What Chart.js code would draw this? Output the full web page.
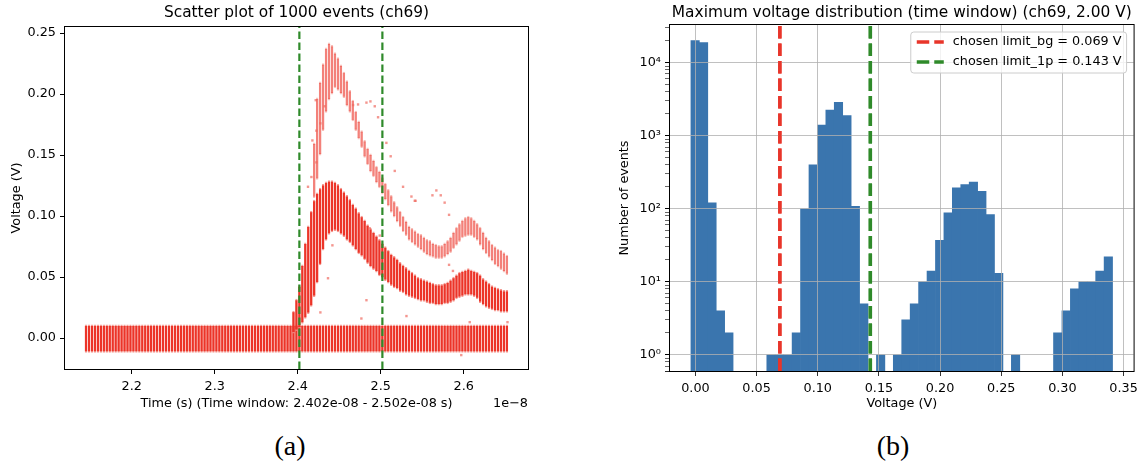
<!DOCTYPE html>
<html>
<head>
<meta charset="utf-8">
<script src="https://cdn.jsdelivr.net/npm/chart.js@4.4.1/dist/chart.umd.min.js"></script>
<style>
  html, body { margin: 0; padding: 0; background: #fff; }
  body { width: 1143px; height: 471px; position: relative; overflow: hidden; }
  #scatterChart { position: absolute; left: 0; top: 0; }
  #histChart { position: absolute; left: 560px; top: 0; }
  .cap { position: absolute; top: 430px; width: 80px; text-align: center;
         font-family: "Liberation Serif", "DejaVu Serif", serif; font-size: 28px; color: #000; }
</style>
</head>
<body>
<canvas id="scatterChart" width="560" height="420"></canvas>
<canvas id="histChart" width="583" height="420"></canvas>
<div class="cap" style="left:250px">(a)</div>
<div class="cap" style="left:853px">(b)</div>
<script>
// ---- (a) scatter of 1000 events, time axis in units of 1e-8 s ----
const sampleStart = 2.145;
const sampleStep = 0.00357;
const sampleCount = 143;
// 0 p.e. baseline, flat over the whole trace
const baselineBand = [-0.0118, 0.0108];
// pulse region starts at this sample
const signalFirstSample = 70;
const onePeLow = [
  0.004, 0.006, 0.008, 0.012, 0.016, 0.020, 0.026, 0.034, 0.045, 0.060,
  0.072, 0.080, 0.085, 0.087, 0.088, 0.087, 0.085, 0.083, 0.080, 0.078,
  0.075, 0.072, 0.069, 0.067, 0.064, 0.061, 0.058, 0.056, 0.054, 0.051,
  0.049, 0.047, 0.045, 0.043, 0.041, 0.040, 0.038, 0.037, 0.035, 0.034,
  0.033, 0.032, 0.031, 0.030, 0.030, 0.029, 0.028, 0.028, 0.027, 0.027,
  0.027, 0.028, 0.028, 0.029, 0.030, 0.032, 0.033, 0.034, 0.035, 0.035,
  0.035, 0.034, 0.032, 0.029, 0.027, 0.025, 0.024, 0.023, 0.022, 0.022,
  0.021, 0.021, 0.021
];
const onePeHigh = [
  0.022, 0.032, 0.043, 0.060, 0.078, 0.092, 0.104, 0.113, 0.119, 0.123,
  0.126, 0.128, 0.129, 0.129, 0.128, 0.126, 0.123, 0.120, 0.117, 0.114,
  0.110, 0.107, 0.103, 0.100, 0.097, 0.093, 0.090, 0.087, 0.084, 0.081,
  0.078, 0.075, 0.072, 0.069, 0.067, 0.065, 0.062, 0.060, 0.058, 0.056,
  0.054, 0.052, 0.050, 0.049, 0.048, 0.047, 0.046, 0.045, 0.044, 0.044,
  0.044, 0.045, 0.046, 0.048, 0.050, 0.052, 0.054, 0.055, 0.056, 0.057,
  0.056, 0.055, 0.054, 0.052, 0.049, 0.047, 0.045, 0.043, 0.042, 0.041,
  0.040, 0.039, 0.039
];
const twoPeLow = [
  null, null, null, null, null, null, null, 0.115, 0.130, 0.150,
  0.170, 0.185, 0.195, 0.200, 0.205, 0.203, 0.200, 0.197, 0.190, 0.185,
  0.178, 0.170, 0.163, 0.156, 0.148, 0.142, 0.136, 0.132, 0.127, 0.123,
  0.118, 0.113, 0.108, 0.103, 0.099, 0.095, 0.091, 0.087, 0.084, 0.080,
  0.078, 0.076, 0.074, 0.072, 0.070, 0.068, 0.067, 0.066, 0.065, 0.065,
  0.065, 0.066, 0.068, 0.070, 0.073, 0.076, 0.079, 0.082, 0.083, 0.084,
  0.084, 0.082, 0.080, 0.076, 0.072, 0.069, 0.066, 0.063, 0.060, 0.058,
  0.056, 0.054, 0.052
];
const twoPeHigh = [
  null, null, null, null, null, null, null, 0.160, 0.197, 0.210,
  0.225, 0.238, 0.242, 0.240, 0.234, 0.230, 0.224, 0.218, 0.211, 0.203,
  0.195, 0.186, 0.178, 0.170, 0.162, 0.156, 0.151, 0.146, 0.141, 0.137,
  0.132, 0.127, 0.122, 0.117, 0.112, 0.108, 0.104, 0.100, 0.096, 0.092,
  0.090, 0.088, 0.086, 0.085, 0.083, 0.081, 0.080, 0.078, 0.077, 0.076,
  0.076, 0.078, 0.080, 0.083, 0.087, 0.091, 0.094, 0.097, 0.099, 0.100,
  0.099, 0.097, 0.094, 0.091, 0.087, 0.083, 0.080, 0.077, 0.075, 0.073,
  0.072, 0.070, 0.068
];
// stray single events outside the bands
const outlierTimes = [
  2.4124, 2.4165, 2.4177, 2.4217, 2.4225, 2.4225, 2.4273, 2.4325, 2.4667, 2.4727,
  2.4828, 2.4876, 2.4928, 2.4968, 2.5068, 2.5120, 2.5169, 2.5269, 2.5370, 2.5410,
  2.5420, 2.5623, 2.5670, 2.5723, 2.5770, 2.4273, 2.4418, 2.4365, 2.4828, 2.4767,
  2.5310, 2.4867, 2.4988, 2.5823, 2.5823, 2.5870, 2.6072, 2.5970, 2.6527
];
const outlierVolts = [
  0.124, 0.132, 0.162, 0.195, 0.170, 0.144, 0.176, 0.190, 0.191, 0.1915,
  0.193, 0.194, 0.190, 0.181, 0.160, 0.149, 0.137, 0.124, 0.116, 0.1125,
  0.1125, 0.117, 0.121, 0.117, 0.111, 0.021, 0.076, 0.049, 0.031, 0.016,
  0.018, 0.090, 0.084, 0.101, 0.060, 0.055, 0.013, -0.014, 0.013
];
const windowLimits = [2.402, 2.502];
const scatterXRange = [2.1197, 2.6774];
const scatterYRange = [-0.0254, 0.255];

// ---- (b) histogram of max voltage in the time window ----
const binStart = -0.0037;
const binWidth = 0.006894;
const binCounts = [
  20000, 18800, 120, 4, 2, null, null, null, null, 1,
  1, 1, 2, 100, 400, 1400, 2250, 2870, 1880, 108,
  5, null, 1, null, 1, 3, 5, 10, 14, 37,
  88, 194, 215, 232, 173, 83, 13, null, 1, null,
  null, null, null, 2, 4, 8, 10, 10, 14, 22
];
const limitBg = 0.069;
const limit1p = 0.143;
const histXRange = [-0.0208, 0.3582];
const histYRange = [0.6, 32800];

const FONT = '"DejaVu Sans", sans-serif';
const RED = "rgb(236,52,40)";
const PINK = "rgba(242,140,130,0.85)";
const GREEN = "#2f8a2a";
const BLUE = "#3a75ae";
const SUP = ["\u2070", "\u00b9", "\u00b2", "\u00b3", "\u2074"];

Chart.defaults.font.family = FONT;
Chart.defaults.font.size = 12.8;
Chart.defaults.color = "#000";

const sampleTimes = Array.from({ length: sampleCount }, (_, i) => sampleStart + i * sampleStep);

function bandData(lows, highs) {
  const out = [];
  lows.forEach((lo, k) => {
    if (lo === null) return;
    out.push({ x: sampleTimes[signalFirstSample + k], y: [lo, highs[k]] });
  });
  return out;
}

function vline(x, range, color, width, dash, label) {
  return {
    type: "line",
    label: label,
    data: [{ x: x, y: range[0] }, { x: x, y: range[1] }],
    borderColor: color,
    borderWidth: width,
    borderDash: dash,
    borderCapStyle: "butt",
    pointRadius: 0,
    fill: false,
    order: 0,
  };
}

function isPow10(v) {
  const e = Math.log10(v);
  return Math.abs(e - Math.round(e)) < 1e-9;
}
function isLogTick(v) {
  const m = v / Math.pow(10, Math.floor(Math.log10(v) + 1e-9));
  return Math.abs(m - Math.round(m)) < 1e-6;
}

// title centred over the axes, plus the black box round the axes
const axesDeco = {
  id: "axesDeco",
  afterDraw(chart, args, opts) {
    const { ctx, chartArea: a } = chart;
    ctx.save();
    if (opts.redrawLines) {
      chart.getSortedVisibleDatasetMetas().forEach((m) => {
        if (m.type !== "line") return;
        ctx.save();
        ctx.beginPath();
        ctx.rect(a.left, a.top, a.right - a.left, a.bottom - a.top);
        ctx.clip();
        m.controller.draw();
        ctx.restore();
      });
    }
    ctx.strokeStyle = "#000";
    ctx.lineWidth = 1;
    ctx.strokeRect(a.left - 0.5, a.top - 0.5, a.right - a.left + 1, a.bottom - a.top + 1);
    ctx.fillStyle = "#000";
    ctx.font = "15.4px " + FONT;
    ctx.textAlign = "center";
    ctx.textBaseline = "middle";
    ctx.fillText(opts.text, (a.left + a.right) / 2, 13);
    if (opts.offsetText) {
      ctx.font = "12.8px " + FONT;
      ctx.textAlign = "right";
      ctx.fillText(opts.offsetText, a.right, 404);
    }
    ctx.restore();
  },
};

// legend box in the upper right of the histogram
const limitLegend = {
  id: "limitLegend",
  afterDraw(chart) {
    const { ctx, chartArea: a } = chart;
    const items = chart.data.datasets.filter((d) => d.type === "line");
    ctx.save();
    ctx.font = "12.8px " + FONT;
    const textW = Math.max(...items.map((d) => ctx.measureText(d.label).width));
    const w = 6 + 27 + 9 + textW + 5;
    const h = 41;
    const x = a.right - 7 - w;
    const y = a.top + 7;
    const r = 3;
    ctx.beginPath();
    ctx.moveTo(x + r, y);
    ctx.arcTo(x + w, y, x + w, y + h, r);
    ctx.arcTo(x + w, y + h, x, y + h, r);
    ctx.arcTo(x, y + h, x, y, r);
    ctx.arcTo(x, y, x + w, y, r);
    ctx.closePath();
    ctx.fillStyle = "rgba(255,255,255,0.8)";
    ctx.fill();
    ctx.strokeStyle = "#cccccc";
    ctx.lineWidth = 1;
    ctx.stroke();
    items.forEach((d, i) => {
      const cy = y + 10 + i * 20;
      ctx.beginPath();
      ctx.setLineDash(d.borderDash);
      ctx.strokeStyle = d.borderColor;
      ctx.lineWidth = d.borderWidth;
      ctx.moveTo(x + 6, cy);
      ctx.lineTo(x + 33, cy);
      ctx.stroke();
      ctx.setLineDash([]);
      ctx.fillStyle = "#000";
      ctx.textAlign = "left";
      ctx.textBaseline = "middle";
      ctx.fillText(d.label, x + 42, cy);
    });
    ctx.restore();
  },
};

const barBorder = { top: 1.5, bottom: 1.5, left: 0, right: 0 };

new Chart(document.getElementById("scatterChart"), {
  type: "bar",
  data: {
    datasets: [
      {
        label: "0 p.e.",
        data: sampleTimes.map((t) => ({ x: t, y: baselineBand })),
        backgroundColor: RED,
        borderColor: PINK,
        borderWidth: barBorder,
        borderSkipped: false,
        barThickness: 2.4,
        grouped: false,
        order: 4,
      },
      {
        label: "1 p.e.",
        data: bandData(onePeLow, onePeHigh),
        backgroundColor: RED,
        borderColor: PINK,
        borderWidth: barBorder,
        borderSkipped: false,
        barThickness: 2.4,
        grouped: false,
        order: 3,
      },
      {
        label: "2 p.e.",
        data: bandData(twoPeLow, twoPeHigh),
        backgroundColor: "rgba(236,52,40,0.62)",
        borderColor: "rgba(242,150,140,0.6)",
        borderWidth: barBorder,
        borderSkipped: false,
        barThickness: 2.4,
        grouped: false,
        order: 2,
      },
      {
        type: "scatter",
        label: "single events",
        data: outlierTimes.map((t, i) => ({ x: t, y: outlierVolts[i] })),
        pointStyle: "rect",
        pointRadius: 1.7,
        pointBorderWidth: 0,
        backgroundColor: "rgba(240,105,95,0.7)",
        borderColor: "rgba(0,0,0,0)",
        order: 1,
      },
      vline(windowLimits[0], scatterYRange, GREEN, 2.2, [7.5, 3.5], "window start"),
      vline(windowLimits[1], scatterYRange, GREEN, 2.2, [7.5, 3.5], "window end"),
    ],
  },
  options: {
    responsive: false,
    animation: false,
    layout: { padding: { left: 0, right: 32, top: 27, bottom: 0 } },
    plugins: {
      legend: { display: false },
      tooltip: { enabled: false },
      axesDeco: { text: "Scatter plot of 1000 events (ch69)", offsetText: "1e\u22128" },
    },
    scales: {
      x: {
        type: "linear",
        min: scatterXRange[0],
        max: scatterXRange[1],
        offset: false,
        grid: { offset: false, drawOnChartArea: false, tickLength: 5, tickColor: "#000" },
        border: { display: false },
        ticks: {
          stepSize: 0.1,
          includeBounds: false,
          autoSkip: false,
          maxRotation: 0,
          padding: 5,
          callback: (v) => v.toFixed(1),
        },
        title: {
          display: true,
          text: "Time (s) (Time window: 2.402e-08 - 2.502e-08 s)",
          padding: { top: 0, bottom: 8.3 },
        },
        afterFit: (s) => { s.height = 51; },
      },
      y: {
        type: "linear",
        min: scatterYRange[0],
        max: scatterYRange[1],
        grid: { drawOnChartArea: false, tickLength: 5, tickColor: "#000" },
        border: { display: false },
        ticks: {
          stepSize: 0.05,
          includeBounds: false,
          autoSkip: false,
          padding: 4,
          callback: (v) => (Math.abs(v) < 1e-9 ? 0 : v).toFixed(2),
        },
        title: { display: true, text: "Voltage (V)", padding: { top: 9.3, bottom: 0 } },
        afterFit: (s) => { s.width = 65; },
      },
    },
  },
  plugins: [axesDeco],
});

const binCenters = binCounts.map((_, i) => binStart + (i + 0.5) * binWidth);

new Chart(document.getElementById("histChart"), {
  type: "bar",
  data: {
    datasets: [
      {
        label: "Maximum voltage",
        data: binCounts.map((c, i) => ({ x: binCenters[i], y: c })),
        backgroundColor: BLUE,
        borderWidth: 0,
        barPercentage: 1,
        categoryPercentage: 1,
        order: 1,
      },
      vline(limitBg, histYRange, "#e8352a", 3.4, [12.5, 5], "chosen limit_bg = " + limitBg.toFixed(3) + " V"),
      vline(limit1p, histYRange, GREEN, 3.4, [12.5, 5], "chosen limit_1p = " + limit1p.toFixed(3) + " V"),
    ],
  },
  options: {
    responsive: false,
    animation: false,
    layout: { padding: { left: 0, right: 9, top: 25, bottom: 0 } },
    plugins: {
      legend: { display: false },
      tooltip: { enabled: false },
      axesDeco: { text: "Maximum voltage distribution (time window) (ch69, 2.00 V)", redrawLines: true },
    },
    scales: {
      x: {
        type: "linear",
        min: histXRange[0],
        max: histXRange[1],
        offset: false,
        grid: { offset: false, z: 1, color: "#b0b0b0", lineWidth: 0.8, tickLength: 5, tickColor: "#000" },
        border: { display: false },
        ticks: {
          stepSize: 0.05,
          includeBounds: false,
          autoSkip: false,
          maxRotation: 0,
          padding: 5,
          callback: (v) => (Math.abs(v) < 1e-9 ? 0 : v).toFixed(2),
        },
        title: { display: true, text: "Voltage (V)", padding: { top: 0, bottom: 8.3 } },
        afterFit: (s) => { s.height = 49; },
      },
      y: {
        type: "logarithmic",
        min: histYRange[0],
        max: histYRange[1],
        grid: {
          z: 1,
          color: (c) => (c.tick && isPow10(c.tick.value) ? "#b0b0b0" : "rgba(0,0,0,0)"),
          lineWidth: 0.8,
          tickLength: 5,
          tickColor: (c) => (c.tick && isLogTick(c.tick.value) ? "#000" : "rgba(0,0,0,0)"),
          tickWidth: (c) => (c.tick && isPow10(c.tick.value) ? 1 : 0.6),
        },
        border: { display: false },
        ticks: {
          autoSkip: false,
          padding: 4,
          callback: (v) => (isPow10(v) ? "10" + SUP[Math.round(Math.log10(v))] : ""),
        },
        title: { display: true, text: "Number of events", padding: { top: 57.3, bottom: 0 } },
        afterFit: (s) => { s.width = 110; },
      },
    },
  },
  plugins: [axesDeco, limitLegend],
});
</script>
</body>
</html>
